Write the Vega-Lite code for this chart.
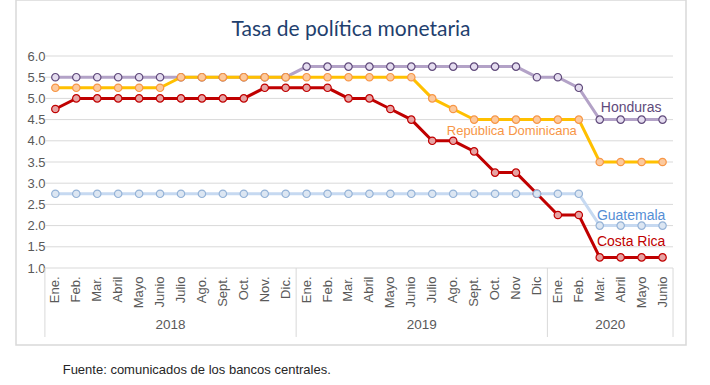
{
  "$schema": "https://vega.github.io/schema/vega-lite/v6.json",
  "width": 670,
  "height": 345,
  "autosize": "none",
  "padding": {"left": 16, "top": 0, "right": 24, "bottom": 40},
  "background": "white",
  "config": {"view": {"stroke": "#d9d9d9", "strokeWidth": 1.5}, "axisY": {"labelOverlap": false}, "axisX": {"labelOverlap": false}},
  "title": {"text": "Tasa de política monetaria", "fontSize": 21, "font": "Lato", "color": "#1f3f6e", "fontWeight": "normal", "offset": -40, "anchor": "middle"},
  "datasets": {
    "tasas": [
      {"mes": "2018 Ene.", "Honduras": 5.5, "República Dominicana": 5.25, "Costa Rica": 4.75, "Guatemala": 2.75},
      {"mes": "2018 Feb.", "Honduras": 5.5, "República Dominicana": 5.25, "Costa Rica": 5.0, "Guatemala": 2.75},
      {"mes": "2018 Mar.", "Honduras": 5.5, "República Dominicana": 5.25, "Costa Rica": 5.0, "Guatemala": 2.75},
      {"mes": "2018 Abril", "Honduras": 5.5, "República Dominicana": 5.25, "Costa Rica": 5.0, "Guatemala": 2.75},
      {"mes": "2018 Mayo", "Honduras": 5.5, "República Dominicana": 5.25, "Costa Rica": 5.0, "Guatemala": 2.75},
      {"mes": "2018 Junio", "Honduras": 5.5, "República Dominicana": 5.25, "Costa Rica": 5.0, "Guatemala": 2.75},
      {"mes": "2018 Julio", "Honduras": 5.5, "República Dominicana": 5.5, "Costa Rica": 5.0, "Guatemala": 2.75},
      {"mes": "2018 Ago.", "Honduras": 5.5, "República Dominicana": 5.5, "Costa Rica": 5.0, "Guatemala": 2.75},
      {"mes": "2018 Sept.", "Honduras": 5.5, "República Dominicana": 5.5, "Costa Rica": 5.0, "Guatemala": 2.75},
      {"mes": "2018 Oct.", "Honduras": 5.5, "República Dominicana": 5.5, "Costa Rica": 5.0, "Guatemala": 2.75},
      {"mes": "2018 Nov.", "Honduras": 5.5, "República Dominicana": 5.5, "Costa Rica": 5.25, "Guatemala": 2.75},
      {"mes": "2018 Dic.", "Honduras": 5.5, "República Dominicana": 5.5, "Costa Rica": 5.25, "Guatemala": 2.75},
      {"mes": "2019 Ene.", "Honduras": 5.75, "República Dominicana": 5.5, "Costa Rica": 5.25, "Guatemala": 2.75},
      {"mes": "2019 Feb.", "Honduras": 5.75, "República Dominicana": 5.5, "Costa Rica": 5.25, "Guatemala": 2.75},
      {"mes": "2019 Mar.", "Honduras": 5.75, "República Dominicana": 5.5, "Costa Rica": 5.0, "Guatemala": 2.75},
      {"mes": "2019 Abril", "Honduras": 5.75, "República Dominicana": 5.5, "Costa Rica": 5.0, "Guatemala": 2.75},
      {"mes": "2019 Mayo", "Honduras": 5.75, "República Dominicana": 5.5, "Costa Rica": 4.75, "Guatemala": 2.75},
      {"mes": "2019 Junio", "Honduras": 5.75, "República Dominicana": 5.5, "Costa Rica": 4.5, "Guatemala": 2.75},
      {"mes": "2019 Julio", "Honduras": 5.75, "República Dominicana": 5.0, "Costa Rica": 4.0, "Guatemala": 2.75},
      {"mes": "2019 Ago.", "Honduras": 5.75, "República Dominicana": 4.75, "Costa Rica": 4.0, "Guatemala": 2.75},
      {"mes": "2019 Sept.", "Honduras": 5.75, "República Dominicana": 4.5, "Costa Rica": 3.75, "Guatemala": 2.75},
      {"mes": "2019 Oct.", "Honduras": 5.75, "República Dominicana": 4.5, "Costa Rica": 3.25, "Guatemala": 2.75},
      {"mes": "2019 Nov", "Honduras": 5.75, "República Dominicana": 4.5, "Costa Rica": 3.25, "Guatemala": 2.75},
      {"mes": "2019 Dic", "Honduras": 5.5, "República Dominicana": 4.5, "Costa Rica": 2.75, "Guatemala": 2.75},
      {"mes": "2020 Ene.", "Honduras": 5.5, "República Dominicana": 4.5, "Costa Rica": 2.25, "Guatemala": 2.75},
      {"mes": "2020 Feb.", "Honduras": 5.25, "República Dominicana": 4.5, "Costa Rica": 2.25, "Guatemala": 2.75},
      {"mes": "2020 Mar.", "Honduras": 4.5, "República Dominicana": 3.5, "Costa Rica": 1.25, "Guatemala": 2.0},
      {"mes": "2020 Abril", "Honduras": 4.5, "República Dominicana": 3.5, "Costa Rica": 1.25, "Guatemala": 2.0},
      {"mes": "2020 Mayo", "Honduras": 4.5, "República Dominicana": 3.5, "Costa Rica": 1.25, "Guatemala": 2.0},
      {"mes": "2020 Junio", "Honduras": 4.5, "República Dominicana": 3.5, "Costa Rica": 1.25, "Guatemala": 2.0}
    ]
  },
  "layer": [
    {
      "data": {"values": [{"v": 1}, {"v": 1.5}, {"v": 2}, {"v": 2.5}, {"v": 3}, {"v": 3.5}, {"v": 4}, {"v": 4.5}, {"v": 5}, {"v": 5.5}, {"v": 6}]},
      "mark": {"type": "rule", "color": "#d9d9d9", "strokeWidth": 1},
      "encoding": {
        "x": {"datum": "2018 Ene.", "bandPosition": 0, "type": "ordinal",
          "scale": {"type": "band", "domain": ["2018 Ene.", "2018 Feb.", "2018 Mar.", "2018 Abril", "2018 Mayo", "2018 Junio", "2018 Julio", "2018 Ago.", "2018 Sept.", "2018 Oct.", "2018 Nov.", "2018 Dic.", "2019 Ene.", "2019 Feb.", "2019 Mar.", "2019 Abril", "2019 Mayo", "2019 Junio", "2019 Julio", "2019 Ago.", "2019 Sept.", "2019 Oct.", "2019 Nov", "2019 Dic", "2020 Ene.", "2020 Feb.", "2020 Mar.", "2020 Abril", "2020 Mayo", "2020 Junio"], "paddingInner": 0, "paddingOuter": 1.4216, "align": 0.69},
          "axis": {"title": null, "labelExpr": "slice(datum.value, 5)", "labelAngle": -90, "offset": -77, "domain": false, "ticks": false, "labelPadding": 8, "labelColor": "#595959", "labelFontSize": 13, "labelFont": "Liberation Sans", "labelOverlap": false}},
        "x2": {"datum": "2020 Junio", "bandPosition": 1},
        "y": {"field": "v", "type": "quantitative",
          "scale": {"domain": [-0.816, 7.3208], "nice": false, "zero": false},
          "axis": {"title": null, "values": [1, 1.5, 2, 2.5, 3, 3.5, 4, 4.5, 5, 5.5, 6], "tickCount": 30, "format": ".1f", "grid": false, "domain": false, "ticks": false, "offset": -40, "labelPadding": 11, "labelColor": "#595959", "labelFontSize": 13, "labelFont": "Liberation Sans", "labelOverlap": false}}
      }
    },
    {
      "data": {"values": [{"m": "2018 Ene."}, {"m": "2019 Ene."}, {"m": "2020 Ene."}]},
      "mark": {"type": "rule", "color": "#d9d9d9", "strokeWidth": 1},
      "encoding": {
        "x": {"field": "m", "type": "ordinal", "bandPosition": 0},
        "y": {"datum": 1},
        "y2": {"datum": -0.627}
      }
    },
    {
      "data": {"values": [{"m": "2020 Junio"}]},
      "mark": {"type": "rule", "color": "#d9d9d9", "strokeWidth": 1},
      "encoding": {
        "x": {"field": "m", "type": "ordinal", "bandPosition": 1},
        "y": {"datum": 1},
        "y2": {"datum": -0.627}
      }
    },
    {
      "data": {"values": [{"anio": "2018", "m": "2018 Julio"}, {"anio": "2019", "m": "2019 Julio"}, {"anio": "2020", "m": "2020 Abril"}]},
      "mark": {"type": "text", "font": "Liberation Sans", "fontSize": 13.5, "color": "#595959", "baseline": "middle", "align": "center"},
      "encoding": {
        "x": {"field": "m", "type": "ordinal", "bandPosition": 0},
        "y": {"datum": -0.344},
        "text": {"field": "anio"}
      }
    },
    {
      "data": {"name": "tasas"},
      "transform": [{"fold": ["Honduras", "República Dominicana", "Costa Rica", "Guatemala"], "as": ["pais", "tasa"]}],
      "layer": [
        {
          "mark": {"type": "line", "strokeWidth": 3},
          "encoding": {
            "x": {"field": "mes", "type": "ordinal"},
            "y": {"field": "tasa", "type": "quantitative"},
            "color": {"field": "pais", "type": "nominal", "legend": null,
              "scale": {"domain": ["Honduras", "República Dominicana", "Costa Rica", "Guatemala"], "range": ["#b3a2c7", "#ffc000", "#c00000", "#c6d9f1"]}}
          }
        },
        {
          "mark": {"type": "circle", "size": 55, "opacity": 1, "strokeWidth": 1.2},
          "encoding": {
            "x": {"field": "mes", "type": "ordinal"},
            "y": {"field": "tasa", "type": "quantitative"},
            "fill": {"field": "pais", "type": "nominal", "legend": null,
              "scale": {"domain": ["Honduras", "República Dominicana", "Costa Rica", "Guatemala"], "range": ["#e4dcef", "#fcc99d", "#e6a3a3", "#dce6f2"]}},
            "stroke": {"field": "pais", "type": "nominal", "legend": null,
              "scale": {"domain": ["Honduras", "República Dominicana", "Costa Rica", "Guatemala"], "range": ["#604a7b", "#f79646", "#c00000", "#95b3d7"]}}
          }
        }
      ]
    },
    {
      "data": {"values": [{"pais": "Honduras", "m": "2020 Mayo", "pos": 4.77}]},
      "mark": {"type": "text", "font": "Liberation Sans", "fontSize": 14, "color": "#604a7b", "baseline": "middle", "align": "center"},
      "encoding": {"x": {"field": "m", "type": "ordinal", "bandPosition": 0}, "y": {"field": "pos", "type": "quantitative"}, "text": {"field": "pais"}}
    },
    {
      "data": {"values": [{"pais": "Guatemala", "m": "2020 Mayo", "pos": 2.23}]},
      "mark": {"type": "text", "font": "Liberation Sans", "fontSize": 14, "color": "#558ed5", "baseline": "middle", "align": "center"},
      "encoding": {"x": {"field": "m", "type": "ordinal", "bandPosition": 0}, "y": {"field": "pos", "type": "quantitative"}, "text": {"field": "pais"}}
    },
    {
      "data": {"values": [{"pais": "Costa Rica", "m": "2020 Mayo", "pos": 1.61}]},
      "mark": {"type": "text", "font": "Liberation Sans", "fontSize": 14, "color": "#c00000", "baseline": "middle", "align": "center"},
      "encoding": {"x": {"field": "m", "type": "ordinal", "bandPosition": 0}, "y": {"field": "pos", "type": "quantitative"}, "text": {"field": "pais"}}
    },
    {
      "data": {"values": [{"pais": "República Dominicana", "m": "2019 Nov", "pos": 4.23}]},
      "mark": {"type": "text", "font": "Liberation Sans", "fontSize": 13, "color": "#f79646", "baseline": "middle", "align": "center"},
      "encoding": {"x": {"field": "m", "type": "ordinal", "bandPosition": 0.3}, "y": {"field": "pos", "type": "quantitative"}, "text": {"field": "pais"}}
    },
    {
      "data": {"values": [{"nota": "Fuente: comunicados de los bancos centrales.", "m": "2018 Ene.", "pos": -1.406}]},
      "mark": {"type": "text", "font": "Liberation Sans", "fontSize": 13, "color": "#262626", "baseline": "middle", "align": "left"},
      "encoding": {"x": {"field": "m", "type": "ordinal", "bandPosition": 0.85}, "y": {"field": "pos", "type": "quantitative"}, "text": {"field": "nota"}}
    }
  ]
}
